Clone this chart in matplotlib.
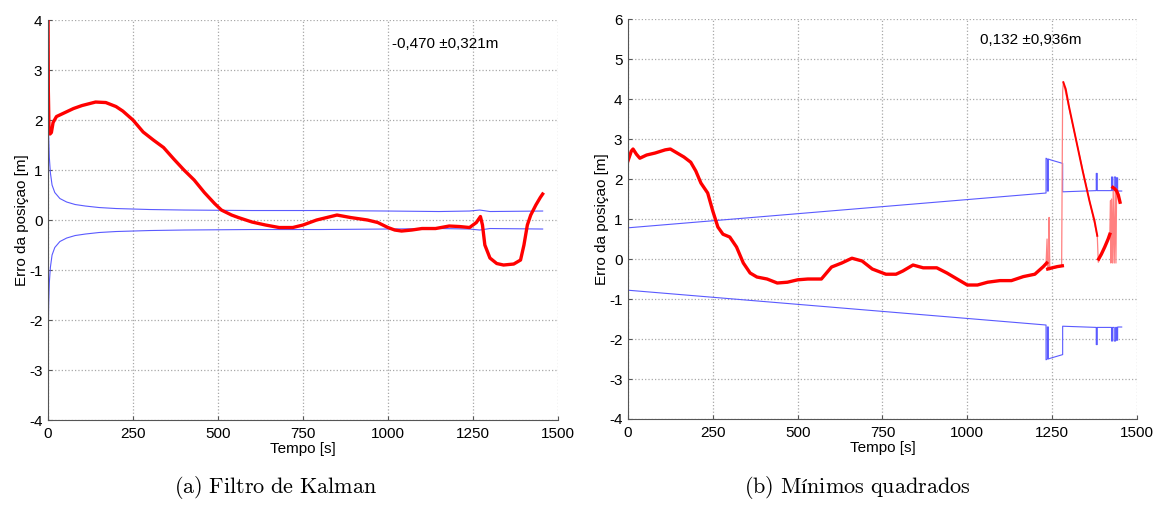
import numpy as np
import matplotlib
matplotlib.use('Agg')
import matplotlib.pyplot as plt

plt.rcParams['font.family'] = ['Liberation Sans', 'DejaVu Sans']
plt.rcParams['axes.unicode_minus'] = False
plt.rcParams['mathtext.fontset'] = 'cm'

# ---- (a) Filtro de Kalman ----
kf_t = [0, 1, 3, 6, 10, 15, 25, 50, 75, 100, 140, 170, 200, 220, 250, 280, 310,
        340, 370, 400, 430, 460, 490, 510, 540, 560, 600, 640, 680, 720, 750,
        790, 820, 850, 890, 940, 970, 1000, 1020, 1040, 1070, 1100, 1140, 1180,
        1210, 1240, 1260, 1272, 1278, 1285, 1300, 1320, 1340, 1370, 1390, 1400,
        1410, 1420, 1435, 1448, 1455]
kf_err = [4.5, 2.6, 1.8, 1.72, 1.75, 1.95, 2.07, 2.15, 2.23, 2.29, 2.36, 2.35,
          2.27, 2.18, 2.0, 1.76, 1.6, 1.45, 1.22, 1.0, 0.8, 0.55, 0.33, 0.2,
          0.1, 0.05, -0.04, -0.1, -0.15, -0.15, -0.1, 0.0, 0.05, 0.1, 0.05, 0.0,
          -0.05, -0.15, -0.2, -0.22, -0.2, -0.17, -0.17, -0.12, -0.13, -0.15,
          -0.05, 0.07, -0.1, -0.5, -0.76, -0.87, -0.9, -0.88, -0.8, -0.5, -0.1,
          0.1, 0.3, 0.45, 0.52]
kf_sig_t = [0.3, 1, 2, 4, 7, 12, 20, 35, 55, 80, 110, 150, 200, 300, 400, 600,
            800, 1000, 1150, 1240, 1270, 1300, 1455]
kf_sig = [2.6, 2.2, 1.7, 1.25, 0.95, 0.7, 0.55, 0.43, 0.36, 0.31, 0.28, 0.25,
          0.23, 0.21, 0.2, 0.19, 0.19, 0.18, 0.17, 0.18, 0.2, 0.17, 0.18]
kf_label = u'-0,470 \u00b10,321m'

# ---- (b) Minimos quadrados ----
ls_t = [0, 10, 15, 25, 35, 55, 80, 110, 125, 145, 165, 185, 200, 215, 235, 250,
        265, 280, 300, 320, 340, 360, 380, 410, 440, 470, 500, 530, 570, 600,
        630, 660, 690, 720, 760, 790, 810, 840, 870, 910, 940, 970, 1000, 1030,
        1060, 1096, 1130, 1165, 1199, 1224, 1234]
ls_err = [2.45, 2.7, 2.75, 2.62, 2.52, 2.6, 2.65, 2.73, 2.75, 2.65, 2.55, 2.42,
          2.2, 1.9, 1.65, 1.2, 0.8, 0.62, 0.55, 0.3, -0.1, -0.35, -0.45, -0.5,
          -0.6, -0.58, -0.52, -0.5, -0.5, -0.2, -0.1, 0.02, -0.05, -0.25, -0.38,
          -0.38, -0.3, -0.15, -0.22, -0.22, -0.35, -0.5, -0.65, -0.65, -0.58,
          -0.54, -0.54, -0.44, -0.38, -0.19, -0.1]
ls_t2 = [1237, 1250, 1265, 1280]
ls_err2 = [-0.25, -0.22, -0.19, -0.17]
ls_t3 = [1283, 1290, 1300, 1320, 1340, 1360, 1375, 1383]
ls_err3 = [4.42, 4.25, 3.8, 3.0, 2.2, 1.45, 0.95, 0.58]
ls_t4 = [1387, 1395, 1405, 1415, 1420]
ls_err4 = [0.0, 0.12, 0.3, 0.5, 0.62]
ls_t5 = [1429, 1435, 1440, 1445, 1450]
ls_err5 = [1.79, 1.75, 1.7, 1.6, 1.42]
# jump segments (thin pale lines)
ls_jt = [1232, 1235, 1237, 1240, 1241, 1243, 1245, 1278, 1281, 1283, 1383, 1386,
         1420, 1422, 1423, 1425, 1428, 1430, 1433, 1436, 1438, 1440]
ls_jv = [-0.15, 0.5, -0.25, -0.25, 1.04, -0.27, -0.25, -0.18, 4.2, 4.42, 0.58,
         -0.08, 0.62, 1.46, -0.1, 1.5, -0.1, 1.7, -0.1, 1.75, -0.1, 1.75]
ls_sig_t = [0, 1232, 1232, 1236, 1236, 1239, 1239, 1245, 1281, 1281, 1380, 1380,
            1383, 1383, 1425, 1425, 1428, 1428, 1433, 1433, 1437, 1437, 1440,
            1440, 1443, 1443, 1455]
ls_sig = [0.78, 1.65, 2.52, 2.5, 1.7, 1.7, 2.5, 2.48, 2.39, 1.68, 1.71, 2.14,
          2.14, 1.71, 1.71, 2.05, 2.05, 1.71, 1.71, 2.05, 2.05, 1.71, 1.71,
          2.03, 2.03, 1.7, 1.7]
ls_label = u'0,132 \u00b10,936m'

fig = plt.figure(figsize=(11.59, 5.05), dpi=100)
ax1 = fig.add_axes([0.0414, 0.1683, 0.440, 0.792])
ax2 = fig.add_axes([0.5418, 0.1703, 0.4392, 0.792])

blue = '#5a5aff'
red = '#ff0000'

def style(ax, ylo, yhi):
    ax.set_xlim(0, 1500)
    ax.set_ylim(ylo, yhi)
    ax.set_xticks([0, 250, 500, 750, 1000, 1250, 1500])
    ax.set_yticks(range(ylo, yhi + 1))
    ax.grid(True, linestyle=':', color='#a8a8a8', linewidth=0.9)
    for s in ['top', 'right']:
        ax.spines[s].set_visible(False)
    for s in ['left', 'bottom']:
        ax.spines[s].set_color('#555555')
        ax.spines[s].set_linewidth(0.8)
    ax.tick_params(direction='in', length=3, labelsize=11, color='#555555')
    ax.tick_params(axis='x', pad=5)
    ax.tick_params(axis='y', pad=4)
    ax.set_xlabel('Tempo [s]', fontsize=11, labelpad=1)
    ax.set_ylabel(u'Erro da posiçao [m]', fontsize=11, labelpad=0)

# (a)
ax1.plot(kf_sig_t, kf_sig, color=blue, lw=0.8)
ax1.plot(kf_sig_t, [-v for v in kf_sig], color=blue, lw=0.8)
ax1.plot(kf_t, kf_err, color=red, lw=2.4, solid_joinstyle='round')
ax1.plot(kf_t[:2], kf_err[:2], color=red, lw=1.0)
style(ax1, -4, 4)
ax1.text(1012, 3.52, kf_label, fontsize=11, va='center')

# (b)
ax2.plot(ls_sig_t, ls_sig, color=blue, lw=0.8)
ax2.plot(ls_sig_t, [-v for v in ls_sig], color=blue, lw=0.8)
ax2.plot(ls_jt, ls_jv, color='#ff8080', lw=0.9)
for tt, vv in [(ls_t, ls_err), (ls_t2, ls_err2), (ls_t4, ls_err4), (ls_t5, ls_err5)]:
    ax2.plot(tt, vv, color=red, lw=2.4, solid_joinstyle='round')
ax2.plot(ls_t3, ls_err3, color=red, lw=1.4)
style(ax2, -4, 6)
ax2.text(1037, 5.47, ls_label, fontsize=11, va='center')

fig.text(0.2375, 0.008, r'$\mathrm{(a)\ Filtro\ de\ Kalman}$',
         fontsize=16, ha='center', va='bottom')
fig.text(0.7395, 0.008, u'$\\mathrm{(b)\\ M\u00ednimos\\ quadrados}$',
         fontsize=16, ha='center', va='bottom')

fig.savefig('out.png', dpi=100)
